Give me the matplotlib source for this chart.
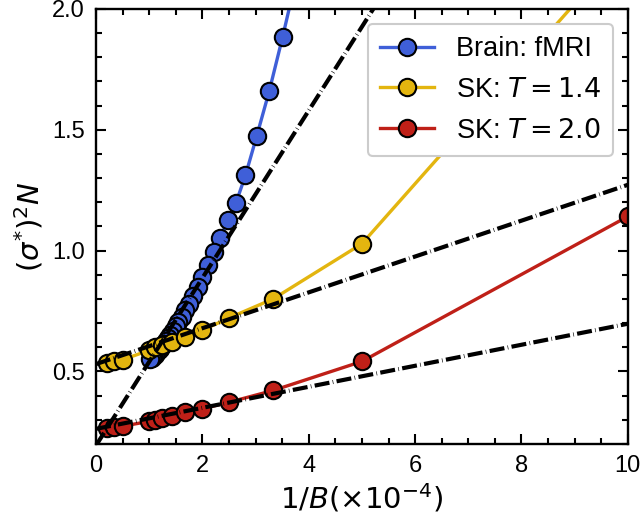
import numpy as np
import matplotlib
matplotlib.use("Agg")
import matplotlib.pyplot as plt
from matplotlib.ticker import MultipleLocator

plt.rcParams['font.family'] = ['Liberation Sans', 'DejaVu Sans']
plt.rcParams['mathtext.fontset'] = 'dejavusans'

# Brain: fMRI  (1/B in units of 1e-4)
brain_x = [3.80, 3.51, 3.26, 3.02, 2.81, 2.63, 2.48, 2.34, 2.21, 2.10, 2.00, 1.91,
           1.82, 1.75, 1.68, 1.61, 1.55, 1.50, 1.45, 1.40, 1.35, 1.31, 1.27, 1.23,
           1.20, 1.16, 1.13, 1.10, 1.07, 1.05, 1.02]
brain_y = [2.16, 1.885, 1.662, 1.472, 1.311, 1.196, 1.128, 1.052, 0.992, 0.940, 0.890, 0.850,
           0.810, 0.780, 0.752, 0.725, 0.703, 0.686, 0.668, 0.652, 0.637, 0.625, 0.613, 0.602,
           0.593, 0.584, 0.576, 0.569, 0.562, 0.557, 0.551]

# SK model samples
sk_x = [0.2, 0.333, 0.5, 1.0, 1.111, 1.25, 1.429, 1.667, 2.0, 2.5, 3.333, 5.0, 10.0]
sk14_y = [0.535, 0.541, 0.548, 0.587, 0.600, 0.610, 0.620, 0.642, 0.670, 0.721, 0.800, 1.028, 2.27]
sk20_y = [0.266, 0.268, 0.273, 0.293, 0.300, 0.305, 0.317, 0.330, 0.345, 0.372, 0.421, 0.541, 1.141]

# linear fits (intercept, slope)
fit_brain = (0.193, 0.3466)
fit_sk14 = (0.530, 0.0742)
fit_sk20 = (0.262, 0.0435)

c_blue = '#3f5fd8'
c_yel = '#e3b50f'
c_red = '#bf2018'

fig = plt.figure(figsize=(6.4, 5.24), dpi=100)
ax = fig.add_axes([0.15, 0.153, 0.831, 0.830])

mk = dict(marker='o', markersize=12.5, markeredgecolor='k', markeredgewidth=1.5, lw=2.4)
ax.plot(brain_x, brain_y, color=c_blue, markerfacecolor=c_blue, label='Brain: fMRI', **mk)
ax.plot(sk_x, sk14_y, color=c_yel, markerfacecolor=c_yel, label=r'SK: $T = 1.4$', **mk)
ax.plot(sk_x, sk20_y, color=c_red, markerfacecolor=c_red, label=r'SK: $T = 2.0$', **mk)

xf = np.array([0, 10])
for b, m in [fit_brain, fit_sk14, fit_sk20]:
    ax.plot(xf, b + m * xf, color='k', lw=3.0, linestyle=(0, (3.6, 0.8, 0.15, 0.8)), zorder=3)

ax.set_xlim(0, 10)
ax.set_ylim(0.2, 2.0)
ax.xaxis.set_major_locator(MultipleLocator(2))
ax.xaxis.set_minor_locator(MultipleLocator(0.5))
ax.yaxis.set_major_locator(MultipleLocator(0.5))
ax.yaxis.set_minor_locator(MultipleLocator(0.1))
ax.tick_params(which='both', direction='in', top=True, right=True, width=1.5, labelsize=17)
ax.tick_params(which='major', length=7, pad=8)
ax.tick_params(which='minor', length=4)
for s in ax.spines.values():
    s.set_linewidth(1.7)

ax.set_xlabel(r'$1/B(\times 10^{-4})$', fontsize=21, labelpad=3)
ax.set_ylabel(r'$(\sigma^{*})^2N$', fontsize=21, labelpad=5)

leg = ax.legend(loc='upper right', fontsize=19.5, handlelength=2.0, borderpad=0.45,
                labelspacing=0.55, handletextpad=0.8, borderaxespad=0.55,
                framealpha=1.0, fancybox=True)
leg.get_frame().set_edgecolor('#cccccc')
leg.get_frame().set_linewidth(1.5)

fig.savefig('out.png', dpi=100)
